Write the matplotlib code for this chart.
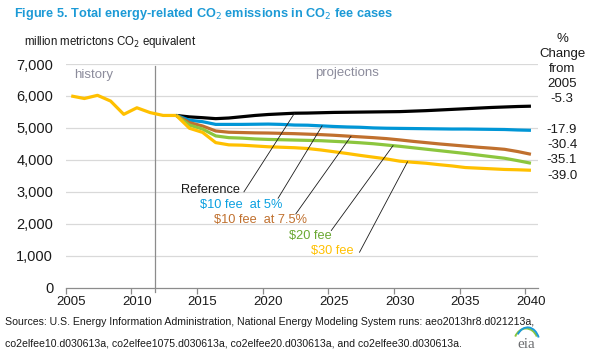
import numpy as np
import matplotlib
matplotlib.use("Agg")
import matplotlib.pyplot as plt
from matplotlib.patches import Arc

# ---------------- data ----------------
hist_years = list(range(2005, 2014))
history = [6000, 5920, 6020, 5840, 5425, 5630, 5480, 5390, 5390]

proj_years = list(range(2013, 2041))
reference = [5390, 5345, 5320, 5290, 5310, 5350, 5390, 5420, 5440, 5460, 5465, 5475, 5485, 5490,
             5495, 5500, 5505, 5510, 5525, 5540, 5560, 5580, 5600, 5620, 5640, 5655, 5670, 5680]
fee10_5 = [5390, 5240, 5195, 5110, 5110, 5110, 5115, 5120, 5110, 5090, 5085, 5065, 5045, 5030,
           5020, 5000, 4990, 4985, 4980, 4975, 4970, 4965, 4965, 4960, 4955, 4950, 4935, 4925]
fee10_75 = [5390, 5165, 5060, 4905, 4865, 4855, 4845, 4840, 4830, 4820, 4805, 4790, 4770, 4745,
            4720, 4695, 4665, 4625, 4580, 4540, 4500, 4465, 4430, 4395, 4365, 4330, 4260, 4175]
fee20 = [5390, 5090, 4965, 4750, 4695, 4680, 4655, 4640, 4630, 4620, 4610, 4600, 4580, 4560,
         4535, 4505, 4465, 4425, 4380, 4335, 4290, 4245, 4200, 4150, 4100, 4050, 3975, 3895]
fee30 = [5390, 4990, 4860, 4540, 4470, 4460, 4435, 4410, 4395, 4380, 4355, 4310, 4255, 4200,
         4140, 4085, 4030, 3960, 3925, 3895, 3850, 3810, 3760, 3740, 3720, 3700, 3690, 3675]

series_names = ["Reference", "$10 fee  at 5%", "$10 fee  at 7.5%", "$20 fee", "$30 fee"]
pct_change = ["-5.3", "-17.9", "-30.4", "-35.1", "-39.0"]
x_ticks = [2005, 2010, 2015, 2020, 2025, 2030, 2035, 2040]
y_ticks = [0, 1000, 2000, 3000, 4000, 5000, 6000, 7000]

colors = ["#000000", "#0096d6", "#c0702e", "#8cc63e", "#ffc000"]
label_colors = ["#1a1a1a", "#0aa0e0", "#c0702e", "#6aa832", "#ffc000"]

# label anchor (text center) and leader-line endpoints (data coords)
label_pos = [(2015.6, 3060), (2017.95, 2590), (2019.4, 2120), (2023.2, 1620), (2024.9, 1160)]
leader_low = [(2018.15, 3000), (2020.75, 2800), (2022.1, 2310), (2024.8, 1790), (2026.95, 1110)]
leader_top_x = [2022.0, 2024.1, 2026.3, 2029.5, 2030.6]

# ---------------- figure ----------------
W, H = 589, 357
fig = plt.figure(figsize=(W / 100, H / 100), dpi=100)
plt.rcParams['font.family'] = ['Liberation Sans', 'DejaVu Sans']

ax_l, ax_r, ax_t, ax_b = 65.7, 538.3, 64.0, 287.7
ax = fig.add_axes([ax_l / W, 1 - ax_b / H, (ax_r - ax_l) / W, (ax_b - ax_t) / H])

ax.set_xlim(2004.58, 2040.56)
ax.set_ylim(0, 7000)

for v in y_ticks[1:]:
    ax.axhline(v, color="#d9d9d9", lw=0.9, zorder=0)

for sp in ["top", "right", "left"]:
    ax.spines[sp].set_visible(False)
ax.spines["bottom"].set_color("#8c8c8c")
ax.spines["bottom"].set_linewidth(0.9)

ax.set_yticks(y_ticks)
ax.set_yticklabels([f"{v:,}" for v in y_ticks])
ax.tick_params(axis="y", length=0, pad=9, labelsize=10.5, labelcolor="#1a1a1a")

ax.set_xticks(x_ticks)
ax.set_xticklabels([str(v) for v in x_ticks])
ax.tick_params(axis="x", length=0, pad=6, labelsize=9.5, labelcolor="#1a1a1a")
ax.set_xticks([v - 0.42 for v in x_ticks], minor=True)
ax.tick_params(axis="x", which="minor", length=4, width=0.9, color="#8c8c8c")

# divider line between history and projections
ax.plot([2011.35, 2011.35], [-120, 6950], color="#8c8c8c", lw=0.9, clip_on=False, zorder=1)

ax.text(2005.2, 6650, "history", color="#8c8c9c", fontsize=9.5, va="center", ha="left")
ax.text(2026.0, 6730, "projections", color="#8c8c9c", fontsize=9.5, va="center", ha="center")

series = [reference, fee10_5, fee10_75, fee20, fee30]
for s, c in zip(series, colors):
    ax.plot(proj_years, s, color=c, lw=2.3, solid_capstyle="butt", zorder=3)
ax.plot(hist_years, history, color=colors[4], lw=2.3, solid_capstyle="butt", zorder=4)

for name, s, lc, lp, lo, tx in zip(series_names, series, label_colors, label_pos, leader_low, leader_top_x):
    ax.text(lp[0], lp[1], name, color=lc, fontsize=9.2, ha="center", va="center")
    ty = np.interp(tx, proj_years, s)
    ax.plot([lo[0], tx], [lo[1], ty], color="#1a1a1a", lw=0.6, zorder=5)

# ---------------- texts in figure pixels ----------------
def ftext(x, y, s, **kw):
    fig.text(x / W, 1 - y / H, s, **kw)

ftext(14, 14, "Figure 5. Total energy-related CO$_2$ emissions in CO$_2$ fee cases",
      color="#1c9ad6", fontsize=9.2, fontweight="bold", va="center", ha="left")
ftext(24, 42, "million metrictons CO$_2$ equivalent", color="#1a1a1a", fontsize=8.3, va="center")

right_lines = [("%", 39), ("Change", 54), ("from", 69), ("2005", 84)]
for s, y in right_lines:
    ftext(562, y, s, color="#1a1a1a", fontsize=9.5, ha="center", va="center")
for s, y in zip(pct_change, [99, 130, 145, 160, 176]):
    ftext(562, y, s, color="#1a1a1a", fontsize=9.5, ha="center", va="center")

ftext(5, 322, "Sources: U.S. Energy Information Administration, National Energy Modeling System runs: aeo2013hr8.d021213a,",
      color="#1a1a1a", fontsize=7.6, va="center")
ftext(5, 343, "co2elfee10.d030613a, co2elfee1075.d030613a, co2elfee20.d030613a, and co2elfee30.d030613a.",
      color="#1a1a1a", fontsize=7.6, va="center")

# eia logo
ftext(526, 344, "eia", color="#6d6e71", fontsize=11, va="center", ha="center",
      family=["Liberation Serif", "DejaVu Serif"])
lax = fig.add_axes([510 / W, 1 - 345 / H, 32 / W, 22 / H])
lax.set_xlim(0, 1); lax.set_ylim(0, 1); lax.axis("off")
lax.add_patch(Arc((0.5, 0.1), 0.75, 1.3, theta1=40, theta2=140, color="#8cc63e", lw=1.4))
lax.add_patch(Arc((0.55, 0.05), 0.75, 1.5, theta1=40, theta2=125, color="#1c9ad6", lw=1.4))

fig.savefig("out.png", dpi=100)
